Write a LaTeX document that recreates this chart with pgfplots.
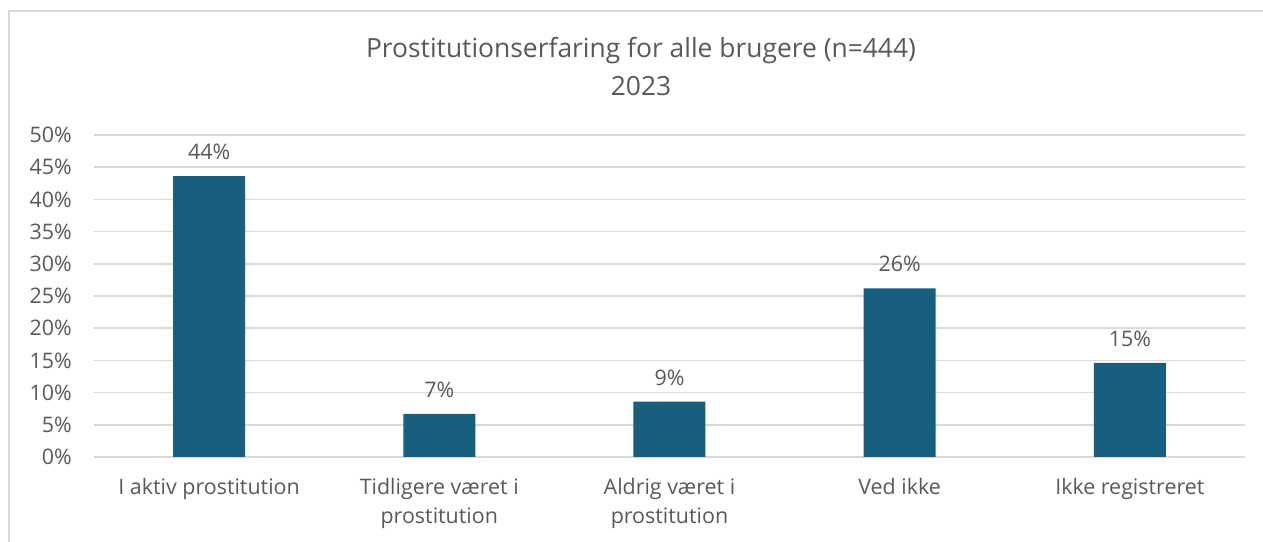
\documentclass[border=0pt]{standalone}
\usepackage{fontspec}
\setmainfont{Open Sans}
\usepackage{pgfplots}
\pgfplotsset{compat=1.18}
\definecolor{barc}{RGB}{23,94,127}
\definecolor{txt}{RGB}{89,89,89}
\definecolor{gridc}{RGB}{217,217,217}
\begin{document}
\begin{tikzpicture}[x=1bp,y=1bp]
\useasboundingbox (0,0) rectangle (1263,542);
\draw[gridc, line width=1.5bp] (9,0) -- (9,531) -- (1263,531);
\node[txt, font=\fontsize{26.5}{30}\selectfont] at (641,491) {Prostitutionserfaring for alle brugere (n=444)};
\node[txt, font=\fontsize{26.5}{30}\selectfont] at (641,456) {2023};
\begin{axis}[
  at={(94bp,85bp)}, anchor=south west,
  scale only axis, width=1151bp, height=322bp,
  xmin=-0.5, xmax=4.5, ymin=0, ymax=50,
  ytick={0,5,...,50},
  xtick={0,1,2,3,4},
  xticklabels={I aktiv prostitution, Tidligere været i\\prostitution, Aldrig været i\\prostitution, Ved ikke, Ikke registreret},
  /pgf/number format/assume math mode=true,
  yticklabel={\pgfmathprintnumber{\tick}\%},
  axis line style={draw=none},
  major tick length=0pt,
  ymajorgrids,
  grid style={gridc, line width=1.5bp},
  tick label style={txt, font=\fontsize{21.5}{29.5}\selectfont},
  xticklabel style={align=center, inner sep=0pt, anchor=north, yshift=-21bp},
  yticklabel style={inner sep=0pt, anchor=east, xshift=-22bp},
  ybar, bar width=72bp,
  nodes near coords={\pgfmathprintnumber[fixed,precision=0]{\pgfplotspointmeta}\%},
  every node near coord/.append style={txt, font=\fontsize{21.5}{24}\selectfont, inner sep=0pt, anchor=south, yshift=16bp},
]
\addplot[fill=barc, draw=none] coordinates {(0,43.6) (1,6.7) (2,8.6) (3,26.2) (4,14.6)};
\end{axis}
\end{tikzpicture}
\end{document}
